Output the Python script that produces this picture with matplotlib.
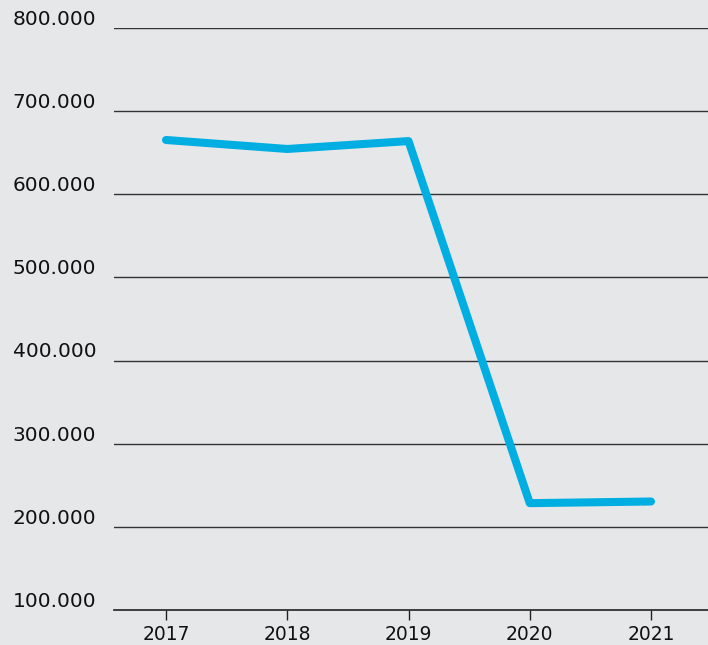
import matplotlib.pyplot as plt
from matplotlib.transforms import blended_transform_factory

years = [2017, 2018, 2019, 2020, 2021]
values = [665300, 654500, 664000, 228500, 230500]
yticks = [100000, 200000, 300000, 400000, 500000, 600000, 700000, 800000]
ylabels = ["100.000", "200.000", "300.000", "400.000", "500.000", "600.000", "700.000", "800.000"]

bg = "#e6e7e9"
plt.rcParams['font.family'] = ['DejaVu Sans']

fig = plt.figure(figsize=(7.08, 6.45), dpi=100, facecolor=bg)
ax = fig.add_axes([114/708, 35/645, 594/708, 582/645], facecolor=bg)

ax.plot(years, values, color="#00aee2", linewidth=5.8, solid_capstyle="round", clip_on=False, zorder=3)

ax.set_xlim(2016.571, 2021.47)
ax.set_ylim(100000, 800000)

for v in yticks[1:]:
    ax.axhline(v, color="#333333", linewidth=1.0, zorder=1)

for s in ["top", "right", "left"]:
    ax.spines[s].set_visible(False)
ax.spines["bottom"].set_color("#222222")
ax.spines["bottom"].set_linewidth(1.2)

ax.set_yticks([])
ax.set_xticks(years)
ax.set_xticklabels([str(y) for y in years], fontsize=13.5, color="#111111")
ax.tick_params(axis="x", length=7, width=1, color="#222222", pad=4)

trans = blended_transform_factory(ax.transAxes, ax.transData)
for v, lab in zip(yticks, ylabels):
    ax.text(-0.03, v - 1000, lab, transform=trans, ha="right", va="bottom", fontsize=14.5, color="#111111")

fig.savefig("out.png", dpi=100, facecolor=bg)
